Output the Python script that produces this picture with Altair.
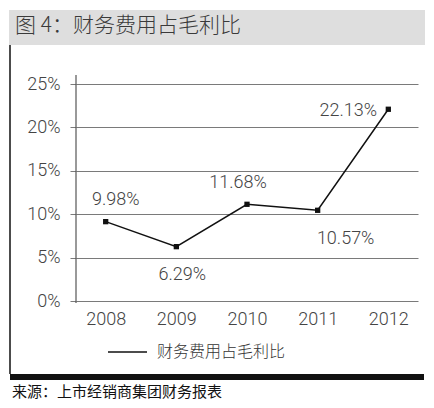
import altair as alt
import pandas as pd

years = ["2008", "2009", "2010", "2011", "2012"]
values = [9.14, 6.26, 11.14, 10.45, 22.09]
labels = ["9.98%", "6.29%", "11.68%", "10.57%", "22.13%"]
y_ticks = [0, 5, 10, 15, 20, 25]
title_text = "图 4：财务费用占毛利比"
legend_text = "财务费用占毛利比"
source_text = "来源：上市经销商集团财务报表"

df = pd.DataFrame({"year": years, "value": values, "label": labels})
one = pd.DataFrame({"k": [0]})

W, H = 342, 217
CJK = "Noto Sans CJK SC"
LAT = "Roboto"
TXT = "#444444"

x_enc = alt.X("year:O", scale=alt.Scale(type="point", padding=0.42),
              axis=alt.Axis(title=None, labelAngle=0, domain=False, ticks=False, grid=False,
                            labelFontSize=18, labelFont=LAT, labelFontWeight=300,
                            labelColor=TXT, labelPadding=9))
y_enc = alt.Y("value:Q", scale=alt.Scale(domain=[0, 25], nice=False),
              axis=alt.Axis(title=None, values=y_ticks, labelExpr="datum.value + '%'",
                            domain=False, grid=True, gridColor="#7a7a7a", gridWidth=1,
                            tickColor="#7a7a7a", tickSize=6, labelFontSize=18, labelFont=LAT,
                            labelFontWeight=300, labelColor=TXT, labelPadding=10))

title_bar = alt.Chart(one).mark_rect(color="#dedede").encode(
    x=alt.value(-67), x2=alt.value(349), y=alt.value(-74), y2=alt.value(-39))
title_t = alt.Chart(one).mark_text(align="left", baseline="middle", font=CJK, fontSize=21,
                                   fontWeight=300, color="#3a3a3a").encode(
    x=alt.value(-61), y=alt.value(-58), text=alt.value(title_text))
border = alt.Chart(one).mark_rule(color="#111", strokeWidth=1.5).encode(
    x=alt.value(-66), y=alt.value(-39), y2=alt.value(290))
bottom = alt.Chart(one).mark_rect(color="#111").encode(
    x=alt.value(-66), x2=alt.value(348), y=alt.value(290), y2=alt.value(296))
yline = alt.Chart(one).mark_rule(color="#555", strokeWidth=1.2).encode(
    x=alt.value(0), y=alt.value(-9), y2=alt.value(219))

line = alt.Chart(df).mark_line(color="#111", strokeWidth=1.5).encode(x=x_enc, y=y_enc)
pts = alt.Chart(df).mark_square(size=28, color="#111", opacity=1).encode(
    x="year:O", y="value:Q")

offsets = [(10, -22), (6, 28), (-9, -21), (28, 29), (-40, 2)]
label_layers = []
for i, (dx, dy) in enumerate(offsets):
    label_layers.append(
        alt.Chart(df.iloc[[i]]).mark_text(dx=dx, dy=dy, fontSize=18, font=LAT, fontWeight=300,
                                          color=TXT, baseline="middle").encode(
            x="year:O", y="value:Q", text="label:N"))

leg_line = alt.Chart(one).mark_rule(color="#111", strokeWidth=1.3).encode(
    x=alt.value(32), x2=alt.value(71), y=alt.value(268))
leg_text = alt.Chart(one).mark_text(align="left", baseline="middle", font=CJK, fontSize=16,
                                    fontWeight=300, color="#333").encode(
    x=alt.value(81), y=alt.value(268), text=alt.value(legend_text))
src = alt.Chart(one).mark_text(align="left", baseline="middle", font=CJK, fontSize=15,
                               color="#111").encode(
    x=alt.value(-64), y=alt.value(308), text=alt.value(source_text))

chart = alt.layer(
    title_bar, title_t, border, bottom, yline, line, pts, *label_layers, leg_line, leg_text, src
).properties(
    width=W, height=H,
    padding={"left": 68, "top": 76, "right": 8, "bottom": 99},
    autosize=alt.AutoSizeParams(type="none"),
).configure_view(stroke=None)

chart.save("out.html", embed_options={"renderer": "svg", "actions": False})
